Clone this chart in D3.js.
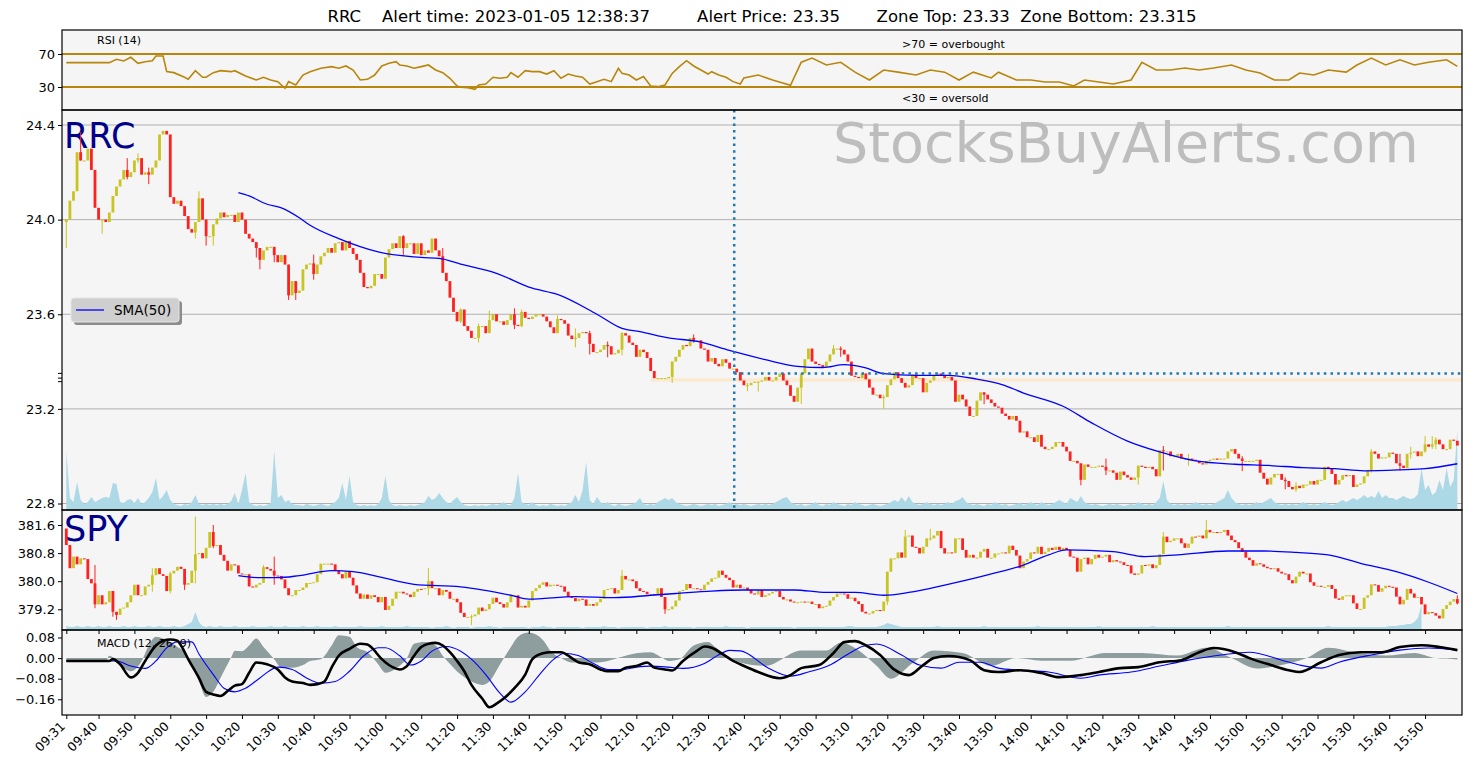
<!DOCTYPE html>
<html>
<head>
<meta charset="utf-8">
<title>RRC alert chart</title>
<script src="https://cdn.jsdelivr.net/npm/d3@7"></script>
<style>
  body { margin: 0; background: #fff; }
  svg { font-family: "DejaVu Sans", sans-serif; }
</style>
</head>
<body>
<svg width="1477" height="768"></svg>
<script>

// x axis: minute bars from 09:31, labels every 10 minutes
var tickLabels = ['09:31','09:40','09:50','10:00','10:10','10:20','10:30','10:40','10:50','11:00',
  '11:10','11:20','11:30','11:40','11:50','12:00','12:10','12:20','12:30','12:40','12:50','13:00',
  '13:10','13:20','13:30','13:40','13:50','14:00','14:10','14:20','14:30','14:40','14:50','15:00',
  '15:10','15:20','15:30','15:40','15:50'];
var tickBars = [0,9,19,29,39,49,59,69,79,89,99,109,119,129,139,149,159,169,179,189,199,209,
  219,229,239,249,259,269,279,289,299,309,319,329,339,349,359,369,379];

// alert info
var alertBar = 186.3;
var alertPrice = 23.35;
var zoneTop = 23.33, zoneBottom = 23.315;
var zoneStartBar = 163;

// RRC 1-minute closes
var rrcOpen0 = 23.99;
var rrcClose = [
  24.0,24.08,24.12,24.285,24.25,24.25,24.30,24.21,24.05,24.0,
  24.0,23.99,24.03,24.10,24.14,24.17,24.21,24.18,24.2,24.25,
  24.26,24.19,24.2,24.19,24.22,24.25,24.36,24.375,24.36,24.095,
  24.067,24.08,24.057,24.015,23.96,23.945,23.99,24.09,24.0,23.93,
  23.93,23.98,24.005,24.03,24.01,24.02,24.02,23.99,24.03,24.0,
  23.94,23.92,23.905,23.88,23.83,23.87,23.885,23.885,23.85,23.82,
  23.85,23.81,23.68,23.74,23.69,23.70,23.79,23.81,23.815,23.77,
  23.81,23.845,23.86,23.88,23.86,23.9,23.905,23.87,23.91,23.88,
  23.855,23.83,23.775,23.715,23.71,23.72,23.77,23.77,23.75,23.84,
  23.875,23.9,23.88,23.93,23.88,23.9,23.9,23.855,23.9,23.85,
  23.87,23.86,23.92,23.87,23.845,23.775,23.74,23.67,23.61,23.57,
  23.62,23.55,23.53,23.5,23.5,23.55,23.55,23.52,23.575,23.6,
  23.57,23.57,23.555,23.575,23.6,23.555,23.55,23.61,23.585,23.58,
  23.59,23.6,23.6,23.59,23.57,23.545,23.52,23.58,23.575,23.56,
  23.51,23.495,23.5,23.52,23.525,23.52,23.475,23.44,23.44,23.45,
  23.47,23.465,23.43,23.435,23.45,23.52,23.51,23.48,23.47,23.42,
  23.45,23.44,23.415,23.36,23.33,23.33,23.33,23.33,23.335,23.4,
  23.42,23.45,23.47,23.465,23.5,23.49,23.49,23.455,23.45,23.4,
  23.415,23.39,23.38,23.41,23.395,23.37,23.37,23.355,23.32,23.30,
  23.3,23.31,23.315,23.315,23.32,23.335,23.32,23.32,23.335,23.35,
  23.32,23.3,23.255,23.23,23.29,23.35,23.41,23.455,23.4,23.39,
  23.385,23.375,23.4,23.43,23.455,23.455,23.45,23.43,23.4,23.34,
  23.335,23.33,23.35,23.325,23.29,23.26,23.26,23.245,23.25,23.3,
  23.325,23.355,23.33,23.31,23.29,23.3,23.345,23.33,23.33,23.27,
  23.31,23.32,23.34,23.35,23.34,23.33,23.335,23.32,23.23,23.26,
  23.24,23.21,23.17,23.17,23.235,23.27,23.26,23.24,23.225,23.21,
  23.205,23.18,23.17,23.155,23.17,23.15,23.1,23.105,23.08,23.08,
  23.06,23.09,23.04,23.03,23.03,23.04,23.06,23.06,23.04,23.02,
  22.98,22.98,22.97,22.90,22.965,22.955,22.955,22.955,22.96,22.955,
  22.94,22.94,22.93,22.9,22.935,22.92,22.91,22.9,22.91,22.96,
  22.955,22.95,22.955,22.945,22.915,23.025,23.02,23.02,23.0,23.0,
  23.01,22.99,22.99,22.99,22.985,22.98,22.97,22.965,22.98,22.985,
  22.99,22.985,22.99,22.99,23.02,23.03,23.01,22.99,22.98,22.98,
  22.98,22.98,22.985,22.93,22.905,22.88,22.91,22.925,22.925,22.9,
  22.895,22.87,22.86,22.875,22.865,22.88,22.88,22.895,22.88,22.9,
  22.9,22.955,22.95,22.925,22.88,22.9,22.92,22.915,22.92,22.87,
  22.88,22.885,22.915,22.94,23.02,23.01,22.99,22.995,22.995,23.015,
  23.01,22.97,22.96,22.95,23.01,23.015,23.02,23.0,23.02,23.05,
  23.04,23.05,23.07,23.05,23.03,23.03,23.07,23.065,23.045];

// [bar, high, low] for the longer RRC wicks
var rrcWicks = [[0,24.0,23.88],[4,24.37,24.25],[10,24.0,23.94],[17,24.26,24.17],[20,24.28,24.24],
  [23,24.22,24.15],[36,23.99,23.92],[37,24.12,23.99],[39,24.0,23.89],[41,23.98,23.89],[53,23.88,23.84],
  [54,23.87,23.79],[58,23.88,23.82],[62,23.81,23.66],[64,23.74,23.66],[69,23.852,23.746],[94,23.934,23.85],
  [105,23.88,23.82],[110,23.625,23.563],[115,23.56,23.48],[118,23.615,23.53],[125,23.625,23.537],
  [127,23.62,23.545],[137,23.595,23.525],[142,23.54,23.46],[146,23.53,23.43],[151,23.485,23.418],
  [155,23.525,23.426],[169,23.4,23.31],[175,23.515,23.48],[190,23.31,23.275],[193,23.315,23.273],
  [205,23.35,23.22],[214,23.47,23.44],[216,23.464,23.42],[228,23.26,23.2],[256,23.27,23.22],
  [283,22.96,22.877],[290,22.99,22.92],[299,22.96,22.88],[306,23.043,22.94],[313,23.01,22.96],
  [328,23.0,22.937],[340,22.91,22.86],[343,22.89,22.85],[364,23.03,22.93],[372,23.01,22.94],
  [375,23.04,22.99],[379,23.085,23.015],[381,23.085,23.03],[382,23.08,23.03]];

var rrcVolume = [
  59,12,8,28,10,6,8,13,8,10, 12,13,12,27,26,8,7,10,11,7, 12,6,8,12,18,32,10,14,20,10,
  6,5,4,6,5,8,15,6,5,6, 5,6,5,6,5,6,9,17,6,20, 37,8,5,4,5,4,5,7,59,12,
  15,8,10,6,5,5,4,6,5,4, 5,6,5,4,6,8,12,27,10,34, 8,5,4,5,4,5,4,6,12,34,
  10,5,4,5,4,4,5,4,5,6, 8,14,10,12,17,12,8,6,10,13, 8,5,4,4,5,4,5,4,5,6,
  5,6,8,5,5,12,37,8,6,5, 8,5,4,5,4,6,5,4,5,4, 6,8,15,8,20,48,10,6,13,8,
  6,8,5,4,6,5,4,5,6,8, 12,6,5,6,5,8,10,12,10,12, 8,6,5,4,5,6,5,4,5,6,
  5,6,4,5,6,8,5,6,5,6, 5,4,5,6,5,6,5,6,8,10, 12,13,8,6,5,6,4,5,6,8,
  5,4,6,5,8,6,5,4,6,5, 8,6,5,4,5,6,5,4,5,6, 8,10,8,13,8,14,8,6,5,6,
  8,6,5,6,5,6,8,6,9,10, 13,8,6,5,6,5,4,6,5,8, 6,5,6,4,5,6,7,5,6,8,
  6,5,8,6,5,6,8,10,8,6, 12,10,8,14,8,6,5,6,5,4, 5,6,5,6,5,4,5,6,5,8,
  6,5,6,5,8,12,29,10,6,5, 6,5,6,5,6,8,6,5,6,5, 6,8,10,12,20,12,8,6,5,6,
  5,6,8,6,8,10,12,8,6,5, 6,5,6,5,6,8,6,5,6,5, 6,8,6,5,6,8,10,8,10,12,
  10,12,15,12,14,12,19,12,15,12, 12,10,12,14,12,11,12,16,42,20, 25,15,18,30,20,42,23,30,80];

var rrcSma = [[48,24.114],[51,24.1],[56,24.065],[60,24.05],[65,24.008],[68,23.976],[76,23.92],
  [87,23.864],[99,23.84],[104,23.836],[110,23.812],[120,23.773],[130,23.71],[137,23.684],
  [148,23.6],[155,23.54],[160,23.527],[168,23.5],[176,23.485],[185,23.447],[195,23.408],
  [204,23.38],[211,23.375],[217,23.387],[223,23.373],[228,23.349],[237,23.342],[246,23.342],
  [254,23.326],[261,23.303],[267,23.267],[278,23.211],[286,23.141],[296,23.064],[305,23.018],
  [315,22.98],[326,22.966],[335,22.961],[345,22.952],[354,22.947],[362,22.938],[372,22.942],
  [379,22.947],[388,22.968]];

// SPY 1-minute closes
var spyOpen0 = 381.5;
var spyClose = [
  381.03,380.37,380.7,380.48,380.65,380.63,380.06,379.94,379.34,379.6,
  379.34,379.4,379.72,379.13,379.04,379.22,379.25,379.4,379.6,379.9,
  379.6,379.6,379.85,379.9,380.17,380.37,380.2,380.15,379.72,380.22,
  380.3,380.41,380.35,379.9,379.95,380.3,380.77,380.8,380.65,380.95,
  381.4,381.0,381.03,380.75,380.58,380.3,380.48,380.45,380.22,380.2,
  380.2,379.85,379.82,379.9,379.95,380.4,380.35,380.3,380.16,380.15,
  380.05,379.8,379.6,379.6,379.75,379.75,379.82,379.95,379.95,379.97,
  380.2,380.5,380.5,380.5,380.48,380.3,380.2,380.08,380.27,380.1,
  379.88,379.65,379.5,379.62,379.5,379.6,379.55,379.4,379.55,379.18,
  379.3,379.5,379.7,379.7,379.65,379.62,379.55,379.7,379.78,379.77,
  379.8,380.0,379.8,379.8,379.6,379.75,379.7,379.5,379.5,379.4,
  379.1,378.98,378.98,379.0,379.05,379.25,379.15,379.2,379.35,379.53,
  379.4,379.35,379.25,379.4,379.6,379.6,379.25,379.3,379.25,379.45,
  379.72,379.8,379.9,379.97,379.85,379.9,379.9,379.87,379.85,379.7,
  379.55,379.52,379.43,379.5,379.48,379.3,379.35,379.3,379.4,379.5,
  379.75,379.78,379.8,379.65,379.75,380.15,380.05,380.05,380.0,379.8,
  379.72,379.7,379.63,379.63,379.62,379.8,379.55,379.2,379.2,379.28,
  379.45,379.72,379.75,379.92,379.8,379.8,379.77,379.75,379.9,379.98,
  380.08,380.1,380.3,380.18,380.1,380.03,379.82,379.9,379.8,379.82,
  379.75,379.65,379.62,379.75,379.55,379.6,379.65,379.7,379.72,379.55,
  379.48,379.48,379.42,379.4,379.4,379.42,379.4,379.42,379.35,379.35,
  379.23,379.28,379.3,379.45,379.55,379.65,379.65,379.63,379.5,379.53,
  379.43,379.35,379.13,379.08,379.08,379.15,379.18,379.15,379.42,380.27,
  380.65,380.65,380.82,380.67,381.27,381.3,380.98,380.95,380.79,380.98,
  381.22,381.22,381.3,381.43,380.94,380.79,380.82,380.8,381.22,381.22,
  380.89,380.67,380.75,380.67,380.67,380.84,380.92,380.67,380.67,380.79,
  380.79,380.82,380.79,381.01,380.89,380.73,380.37,380.56,380.63,380.82,
  380.79,380.98,380.77,380.84,380.95,380.89,380.98,380.89,380.95,380.89,
  380.7,380.67,380.27,380.63,380.67,380.48,380.63,380.75,380.67,380.7,
  380.75,380.54,380.6,380.56,380.54,380.46,380.45,380.22,380.18,380.22,
  380.46,380.44,380.48,380.37,380.46,380.77,381.27,381.11,381.15,381.22,
  381.22,381.08,380.95,381.07,381.27,381.26,381.3,381.22,381.46,381.39,
  381.4,381.39,381.4,381.46,381.3,381.17,381.11,380.94,380.84,380.67,
  380.6,380.44,380.51,380.48,380.41,380.37,380.36,380.37,380.27,380.22,
  380.2,380.03,379.94,380.13,380.27,380.22,380.22,379.97,379.87,379.87,
  379.84,379.84,379.89,379.78,379.51,379.47,379.57,379.6,379.6,379.37,
  379.21,379.21,379.53,379.6,379.91,379.89,379.7,379.8,379.87,379.84,
  379.82,379.56,379.34,379.47,379.78,379.65,379.53,379.55,379.34,379.06,
  379.12,379.09,379.02,378.94,379.21,379.32,379.42,379.49,379.37];

var spyWicks = [[8,380.46,379.23],[13,379.7,378.99],[14,379.1,378.9],[24,380.37,379.7],[29,380.27,379.65],
  [33,380.32,379.75],[36,381.84,379.94],[41,381.6,380.94],[55,380.46,379.98],[58,380.7,379.9],
  [101,380.37,379.6],[113,379.05,378.75],[155,380.32,379.75],[167,379.5,379.07],[229,380.27,379.32],
  [234,381.46,380.89],[241,381.49,381.15],[306,381.4,380.84],[318,381.74,381.22],[388,379.6,379.34]];

var spyVolume = [
  4,3,3,4,3,3,4,3,3,4, 3,3,4,3,3,3,4,3,3,4, 3,3,3,4,3,3,4,3,3,3, 4,3,3,4,6,8,18,8,4,3,
  4,3,3,4,3,3,3,4,3,3, 3,3,4,3,3,3,3,4,3,3, 3,4,3,3,3,3,4,3,3,3, 4,3,3,3,3,4,3,3,3,3,
  3,3,4,3,3,3,3,3,4,3, 3,3,3,3,3,4,3,3,3,3, 3,3,2,3,3,3,4,3,2,3, 3,3,3,2,3,3,3,3,4,3,
  3,2,3,3,3,3,3,3,3,2, 3,3,3,4,3,3,2,3,3,3, 3,3,3,3,2,3,3,3,3,3, 4,3,3,3,2,3,3,3,3,3,
  3,3,2,3,3,3,3,4,3,3, 3,3,3,3,3,2,3,3,3,3, 3,3,3,3,4,3,3,3,3,3, 2,3,3,3,3,3,3,3,3,3,
  3,3,3,2,3,3,3,3,3,3, 3,3,3,3,3,3,3,3,4,4, 3,3,3,3,3,3,3,4,5,7, 6,5,4,3,3,3,3,3,3,3,
  3,3,3,4,3,3,3,3,3,3, 3,3,3,3,3,3,4,3,3,3, 3,3,3,3,3,3,3,3,3,3, 3,4,3,3,3,3,3,3,3,3,
  3,3,3,3,3,3,3,3,4,3, 3,3,3,3,3,3,3,3,3,3, 3,3,3,4,3,3,3,3,3,3, 3,3,3,3,3,3,3,3,3,3,
  3,3,3,3,4,3,3,3,3,3, 3,3,3,3,3,3,3,3,3,3, 3,3,3,3,3,3,3,3,3,3, 3,3,4,3,3,3,3,3,3,3,
  3,3,3,3,3,3,3,3,3,4, 4,4,5,5,6,6,8,12,25];

var spySma = [[48,380.16],[54,380.1],[59,380.1],[65,380.16],[74,380.3],[80,380.27],[87,380.13],
  [97,379.91],[110,379.84],[124,379.6],[129,379.49],[142,379.56],[153,379.53],[163,379.6],
  [170,379.65],[180,379.72],[189,379.75],[203,379.75],[212,379.68],[220,379.68],[228,379.6],
  [235,379.68],[245,379.89],[257,380.18],[267,380.46],[274,380.75],[279,380.89],[292,380.84],
  [301,380.7],[310,380.75],[324,380.86],[334,380.86],[343,380.82],[352,380.75],[361,380.51],
  [371,380.27],[380,379.97],[388,379.65]];

// RSI(14) of RRC
var rsiPts = [[0,59.5],[12,59.5],[14,63.6],[16,61.5],[18,66],[20,58.7],[22,60.7],[24,61.9],[25,67.6],
  [27,67.6],[28,48.6],[30,47.4],[33,41.8],[34,39.3],[36,49.8],[38,41.8],[39,41.8],[41,47.4],[43,49.8],
  [46,48.6],[47,49.8],[50,43.3],[53,38.5],[55,41.8],[57,38.5],[59,36.5],[61,28.4],[62,36.5],[64,32.4],
  [66,44.5],[68,48.6],[71,52.7],[74,54.7],[76,52.7],[78,55.5],[80,50.6],[82,38.5],[84,39.3],[86,44.5],
  [88,55.5],[90,58.7],[92,60.7],[93,56.7],[95,55.5],[97,52.7],[99,54.7],[101,56.7],[103,50.6],[105,47.4],
  [107,40.6],[109,31.2],[110,29.6],[112,29.2],[114,27.2],[115,32.4],[117,33.6],[119,41.8],[121,40.6],
  [123,41.8],[124,47.4],[126,41.8],[128,49.8],[130,48.6],[132,48.6],[134,45.7],[136,49.8],[138,40.6],
  [140,45.7],[142,43.3],[144,41.8],[146,33.6],[148,36.5],[150,39.3],[152,36.5],[154,52.7],[155,46.5],
  [157,44.5],[159,38.5],[161,42.6],[163,31.2],[165,30.4],[167,32.4],[169,46.5],[171,54.7],[173,61.9],
  [175,55.5],[177,50.6],[179,45.7],[180,48.6],[182,44.5],[184,41.8],[186,36.5],[188,33.6],
  [189,41],[193,44.5],[197,38.5],[202,32],[205,60],[208,65],[212,56.7],[216,60],[220,48],[224,38.5],
  [228,50.6],[232,48],[237,44.5],[241,50.6],[245,48],[249,38.5],[253,48],[258,41],[260,48],[265,38.5],
  [269,38.5],[273,36],[277,36],[281,31.2],[284,38.5],[288,36],[292,33.6],[297,38.5],[300,60],[304,50.6],
  [308,50.6],[312,53],[316,50.6],[320,53],[325,56.7],[329,50.6],[333,47],[337,38.5],[341,38.5],[344,47],
  [348,44.5],[352,50.6],[357,48],[360,56.7],[364,65],[368,56.7],[372,63],[376,56.7],[380,60],[385,63],[388,55]];

// MACD (12, 26, 9) of RRC
var macdPts = [[0,-0.011],[12,-0.011],[13,-0.004],[15,-0.024],[18,-0.075],[20,-0.057],[22,-0.011],
  [25,0.049],[27,0.067],[29,0.072],[31,0.067],[32,0.049],[34,-0.004],[37,-0.077],[39,-0.131],[41,-0.141],
  [43,-0.147],[45,-0.128],[47,-0.107],[49,-0.101],[51,-0.057],[53,-0.017],[56,-0.024],[59,-0.044],
  [61,-0.075],[63,-0.091],[66,-0.097],[68,-0.104],[70,-0.101],[72,-0.091],[74,-0.037],[76,0.009],
  [79,0.036],[82,0.056],[84,0.053],[85,0.043],[88,-0.004],[91,-0.035],[93,-0.044],[95,-0.031],[97,0.009],
  [99,0.043],[101,0.056],[103,0.059],[105,0.049],[107,0.023],[109,-0.011],[111,-0.051],[113,-0.104],
  [116,-0.157],[118,-0.191],[120,-0.177],[122,-0.157],[125,-0.117],[128,-0.064],[130,-0.004],[133,0.019],
  [135,0.023],[138,0.023],[141,0],[143,-0.017],[146,-0.024],[149,-0.044],[151,-0.051],[154,-0.051],
  [156,-0.037],[159,-0.031],[162,-0.017],[164,-0.037],[167,-0.044],[169,-0.048],[172,-0.011],[176,0.029],
  [178,0.045],[180,0.04],[183,0.016],[186,-0.011],[188,-0.024],[193,-0.054],[199,-0.078],[202,-0.066],
  [205,-0.039],[210,-0.027],[214,0.02],[217,0.062],[220,0.066],[223,0.05],[227,0.012],[231,-0.045],[235,-0.066],
  [239,-0.027],[242,0],[246,0.008],[252,-0.008],[256,-0.047],[260,-0.054],[266,-0.047],[272,-0.058],
  [277,-0.074],[283,-0.066],[288,-0.054],[294,-0.039],[299,-0.035],[305,-0.016],[311,-0.008],[316,0.023],
  [320,0.039],[326,0.023],[330,0],[336,-0.027],[341,-0.047],[344,-0.054],[350,-0.016],[355,0.012],
  [361,0.023],[367,0.023],[372,0.043],[378,0.05],[383,0.043],[388,0.031]];
var signalPts = [[0,-0.011],[14,-0.011],[18,-0.031],[22,-0.04],[25,-0.011],[28,0.04],[31,0.063],[35,0.063],
  [37,0.016],[41,-0.064],[44,-0.117],[47,-0.131],[50,-0.117],[54,-0.077],[59,-0.035],[63,-0.044],[67,-0.077],
  [71,-0.097],[75,-0.091],[79,-0.051],[83,0.009],[87,0.04],[89,0.04],[93,0.009],[96,-0.027],[99,-0.011],
  [102,0.027],[106,0.045],[110,0.027],[113,-0.004],[117,-0.064],[121,-0.137],[124,-0.171],[128,-0.131],
  [132,-0.064],[136,-0.004],[139,0.019],[143,0.009],[147,-0.021],[151,-0.044],[155,-0.044],[159,-0.035],
  [163,-0.031],[168,-0.035],[172,-0.04],[178,-0.021],[182,0.013],[185,0.03],[188,0.028],[196,-0.04],
  [202,-0.07],[207,-0.054],[213,-0.027],[218,0.015],[222,0.045],[226,0.055],[233,0.012],[238,-0.027],[244,-0.039],
  [249,-0.016],[255,-0.016],[260,-0.039],[266,-0.047],[274,-0.054],[283,-0.078],[288,-0.066],[297,-0.054],
  [305,-0.031],[313,-0.008],[322,0.012],[330,0.023],[339,-0.008],[344,-0.027],[350,-0.039],[355,-0.016],
  [364,0.012],[372,0.031],[380,0.039],[388,0.031]];
var histPts = [[0,-0.012],[11,-0.012],[12,0.009],[14,-0.011],[16,-0.037],[18,-0.051],[21,-0.011],[23,0.049],
  [25,0.083],[27,0.076],[29,0.063],[31,0.043],[33,0.023],[35,-0.031],[37,-0.091],[39,-0.151],[41,-0.131],
  [43,-0.077],[46,0.003],[47,0.029],[49,0.027],[51,0.049],[53,0.076],[55,0.043],[58,-0.004],[60,-0.037],
  [63,-0.037],[66,-0.027],[68,-0.011],[71,-0.004],[74,0.049],[76,0.089],[79,0.083],[81,0.043],[84,0.023],
  [87,-0.024],[89,-0.057],[92,-0.04],[95,0],[97,0.056],[100,0.063],[103,0.049],[105,0.009],[108,-0.037],
  [110,-0.064],[113,-0.091],[116,-0.104],[118,-0.091],[121,-0.024],[124,0.043],[126,0.083],[129,0.099],
  [133,0.069],[135,0.029],[138,0],[141,-0.017],[143,-0.017],[147,-0.017],[151,-0.011],[155,0.005],
  [159,0.019],[163,0.023],[166,0.003],[168,-0.011],[171,-0.004],[175,0.049],[179,0.063],[181,0.043],
  [185,0.003],[188,-0.017],[195,-0.03],[205,0.03],[212,0.03],[216,0.06],[222,0.02],[226,-0.03],[230,-0.08],[236,-0.02],
  [242,0.03],[250,0.02],[258,-0.03],[265,0],[272,-0.01],[280,-0.01],[290,0.02],[300,0.02],[310,0.01],
  [318,0.04],[325,0],[332,-0.04],[338,-0.03],[346,0],[352,0.04],[360,0.02],[368,0.01],[376,0.02],
  [382,0],[388,-0.005]];

var rsiTicks = [30, 70];
var rrcTicks = [22.8, 23.2, 23.6, 24.0, 24.4];
var spyTicks = [379.2, 380.0, 380.8, 381.6];
var macdTicks = [-0.16, -0.08, 0, 0.08];

var svg = d3.select('svg');
var L = 62, R = 1462;
var upColor = '#c8c421', downColor = '#ff2020';

var x = d3.scaleLinear().domain([-1.2, 389.3]).range([L, R]);
var yRsi = d3.scaleLinear().domain([30, 70]).range([87, 54]);
var yRrc = d3.scaleLinear().domain([22.8, 24.4]).range([503.5, 125]);
var ySpy = d3.scaleLinear().domain([379.2, 381.6]).range([609.3, 525]);
var yMacd = d3.scaleLinear().domain([-0.16, 0.08]).range([699.3, 637.5]);
var yRrcVol = d3.scaleLinear().domain([0, 400]).range([510, 110]);
var ySpyVol = d3.scaleLinear().domain([0, 120]).range([630, 510]);

var panels = [
  {id: 'rsi', top: 30, bottom: 110},
  {id: 'rrc', top: 110, bottom: 510},
  {id: 'spy', top: 510, bottom: 630},
  {id: 'macd', top: 630, bottom: 715}
];

var defs = svg.append('defs');
var layers = {};
panels.forEach(function(p) {
  svg.append('rect').attr('x', L).attr('y', p.top).attr('width', R - L)
    .attr('height', p.bottom - p.top).attr('fill', '#f5f5f5');
  defs.append('clipPath').attr('id', 'clip-' + p.id).append('rect')
    .attr('x', L).attr('y', p.top).attr('width', R - L).attr('height', p.bottom - p.top);
  layers[p.id] = svg.append('g').attr('clip-path', 'url(#clip-' + p.id + ')');
});

// title
svg.append('text').attr('x', 762).attr('y', 22).attr('text-anchor', 'middle')
  .attr('font-size', 16.5).style('white-space', 'pre')
  .text('RRC    Alert time: 2023-01-05 12:38:37         Alert Price: 23.35       Zone Top: 23.33  Zone Bottom: 23.315');

// ---- RSI panel
var g = layers.rsi;
g.selectAll('line.lvl').data(rsiTicks).enter().append('line')
  .attr('x1', L).attr('x2', R).attr('y1', yRsi).attr('y2', yRsi)
  .attr('stroke', '#b8860b').attr('stroke-width', 2);
g.append('path').datum(rsiPts)
  .attr('d', d3.line().x(function(d) { return x(d[0]); }).y(function(d) { return yRsi(d[1]); }))
  .attr('fill', 'none').attr('stroke', '#b8860b').attr('stroke-width', 1.6);
g.append('text').attr('x', 97).attr('y', 44).attr('font-size', 11).text('RSI (14)');
g.append('text').attr('x', 902).attr('y', 48).attr('font-size', 11).text('>70 = overbought');
g.append('text').attr('x', 902).attr('y', 102).attr('font-size', 11).text('<30 = oversold');

// candles: each bar opens where the previous one closed
function drawCandles(layer, closes, open0, wicks, y) {
  var bars = closes.map(function(c, i) {
    return {i: i, o: i > 0 ? closes[i - 1] : open0, c: c};
  });
  layer.selectAll('line.wick').data(wicks).enter().append('line')
    .attr('class', 'wick')
    .attr('x1', function(d) { return x(d[0]); })
    .attr('x2', function(d) { return x(d[0]); })
    .attr('y1', function(d) { return y(d[1]); })
    .attr('y2', function(d) { return y(d[2]); })
    .attr('stroke', function(d) { return bars[d[0]].c >= bars[d[0]].o ? upColor : downColor; })
    .attr('stroke-width', 1);
  layer.selectAll('rect.candle').data(bars).enter().append('rect')
    .attr('class', 'candle')
    .attr('x', function(d) { return x(d.i) - 1.4; })
    .attr('width', 2.8)
    .attr('y', function(d) { return y(Math.max(d.o, d.c)); })
    .attr('height', function(d) { return Math.max(1, Math.abs(y(d.o) - y(d.c))); })
    .attr('fill', function(d) { return d.c >= d.o ? upColor : downColor; });
}

function volumeArea(layer, vols, y) {
  layer.append('path').datum(vols)
    .attr('d', d3.area()
      .x(function(d, i) { return x(i); })
      .y0(y(0))
      .y1(function(d) { return y(d); }))
    .attr('fill', '#add8e6');
}

var smaLine = function(y) {
  return d3.line().curve(d3.curveMonotoneX)
    .x(function(d) { return x(d[0]); })
    .y(function(d) { return y(d[1]); });
};

// ---- RRC panel
g = layers.rrc;
g.selectAll('line.grid').data(rrcTicks).enter().append('line')
  .attr('x1', L).attr('x2', R).attr('y1', yRrc).attr('y2', yRrc)
  .attr('stroke', '#b0b0b0').attr('stroke-width', 1);
g.append('rect').attr('x', x(zoneStartBar)).attr('width', R - x(zoneStartBar))
  .attr('y', yRrc(zoneTop)).attr('height', yRrc(zoneBottom) - yRrc(zoneTop))
  .attr('fill', '#fbead2');
volumeArea(g, rrcVolume, yRrcVol);
g.append('text').attr('x', 64).attr('y', 148).attr('font-size', 35).attr('fill', '#00008b').text('RRC');
g.append('text').attr('x', 1126).attr('y', 162).attr('text-anchor', 'middle')
  .attr('font-size', 55.5).attr('fill', '#bdbdbd').text('StocksBuyAlerts.com');
drawCandles(g, rrcClose, rrcOpen0, rrcWicks, yRrc);
g.append('path').datum(rrcSma).attr('d', smaLine(yRrc))
  .attr('fill', 'none').attr('stroke', '#0000ff').attr('stroke-width', 1.3);
g.append('line').attr('x1', x(alertBar)).attr('x2', x(alertBar)).attr('y1', 110).attr('y2', 510)
  .attr('stroke', '#1f77b4').attr('stroke-width', 2.5).attr('stroke-dasharray', '2.5,4.2');
g.append('line').attr('x1', x(alertBar)).attr('x2', R).attr('y1', yRrc(alertPrice)).attr('y2', yRrc(alertPrice))
  .attr('stroke', '#1f77b4').attr('stroke-width', 2.5).attr('stroke-dasharray', '2.5,4.2');

// legend
var lg = g.append('g');
lg.append('rect').attr('x', 74).attr('y', 301).attr('width', 108).attr('height', 24).attr('rx', 3)
  .attr('fill', '#8c8c8c');
lg.append('rect').attr('x', 71).attr('y', 298).attr('width', 108).attr('height', 24).attr('rx', 3)
  .attr('fill', '#cfcfcf').attr('stroke', '#e4e4e4');
lg.append('line').attr('x1', 76).attr('x2', 104).attr('y1', 310).attr('y2', 310)
  .attr('stroke', '#0000ff').attr('stroke-width', 1.3);
lg.append('text').attr('x', 114).attr('y', 315).attr('font-size', 13.5).text('SMA(50)');

// ---- SPY panel
g = layers.spy;
volumeArea(g, spyVolume, ySpyVol);
g.append('text').attr('x', 64).attr('y', 541).attr('font-size', 35).attr('fill', '#00008b').text('SPY');
drawCandles(g, spyClose, spyOpen0, spyWicks, ySpy);
g.append('path').datum(spySma).attr('d', smaLine(ySpy))
  .attr('fill', 'none').attr('stroke', '#0000ff').attr('stroke-width', 1.3);

// ---- MACD panel
g = layers.macd;
g.append('path').datum(histPts)
  .attr('d', d3.area().curve(d3.curveMonotoneX)
    .x(function(d) { return x(d[0]); })
    .y0(yMacd(0))
    .y1(function(d) { return yMacd(d[1]); }))
  .attr('fill', '#8e9d9d');
g.append('path').datum(signalPts).attr('d', smaLine(yMacd))
  .attr('fill', 'none').attr('stroke', '#0000ff').attr('stroke-width', 1.1);
g.append('path').datum(macdPts).attr('d', smaLine(yMacd))
  .attr('fill', 'none').attr('stroke', '#000').attr('stroke-width', 2.6);
g.append('text').attr('x', 97).attr('y', 647).attr('font-size', 11).text('MACD (12, 26, 9)');

// ---- axes and frames
function yAxis(scale, ticks, fmt) {
  var ax = svg.append('g').attr('transform', 'translate(' + L + ',0)')
    .call(d3.axisLeft(scale).tickValues(ticks).tickSize(4).tickFormat(d3.format(fmt)));
  ax.select('.domain').remove();
  ax.selectAll('text').attr('font-size', 13).attr('font-family', 'DejaVu Sans').attr('fill', '#000');
  return ax;
}
yAxis(yRsi, rsiTicks, 'd');
yAxis(yRrc, rrcTicks, '.1f');
yAxis(ySpy, spyTicks, '.1f');
yAxis(yMacd, macdTicks, '.2f');

// unlabelled marks for alert price and zone
svg.selectAll('line.zt').data([alertPrice, zoneTop, zoneBottom]).enter().append('line')
  .attr('x1', L - 4).attr('x2', L).attr('y1', yRrc).attr('y2', yRrc).attr('stroke', '#000');

var spyX = svg.append('g').attr('transform', 'translate(0,630)')
  .call(d3.axisBottom(x).tickValues(tickBars).tickSize(4).tickFormat(''));
spyX.select('.domain').remove();

var xAx = svg.append('g').attr('transform', 'translate(0,715)')
  .call(d3.axisBottom(x).tickValues(tickBars).tickSize(4).tickFormat(function(d) {
    return tickLabels[tickBars.indexOf(d)];
  }));
xAx.select('.domain').remove();
xAx.selectAll('text')
  .attr('font-size', 12.5).attr('font-family', 'DejaVu Sans').attr('fill', '#000')
  .attr('x', 0).attr('y', 0).attr('dy', 0)
  .attr('transform', 'translate(-1,12) rotate(-45)')
  .style('text-anchor', 'end');

panels.forEach(function(p) {
  svg.append('rect').attr('x', L).attr('y', p.top).attr('width', R - L)
    .attr('height', p.bottom - p.top).attr('fill', 'none').attr('stroke', '#000').attr('stroke-width', 1.2);
});

</script>
</body>
</html>
